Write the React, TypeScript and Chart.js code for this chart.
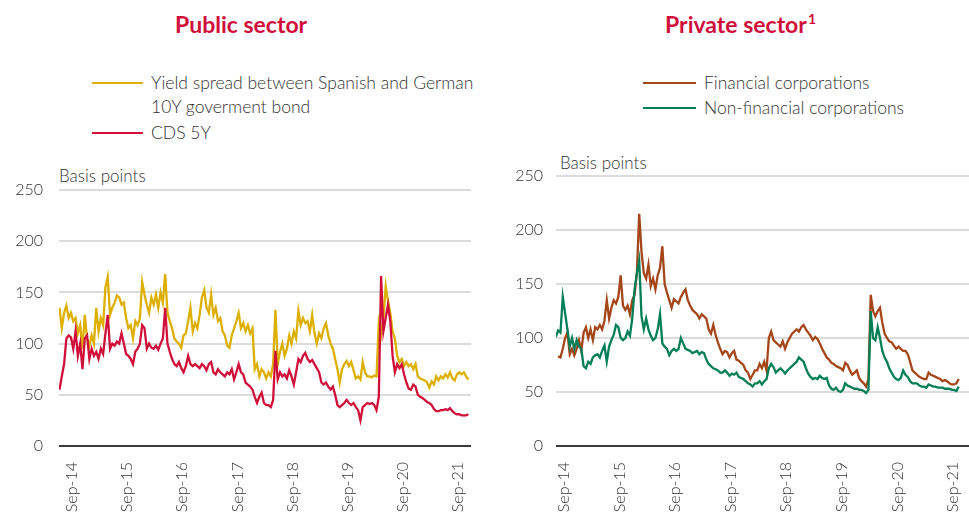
import React, { useEffect, useRef } from 'react';
import { Chart, registerables } from 'chart.js';

Chart.register(...registerables);

// ---------- DATA ----------
// Half-month grid (step = 1/24 year); start positions in fractional years
const PUBLIC_START = 2014.44;
const PRIVATE_START = 2014.52;
const STEP = 1 / 24;

const TICK_YEARS = [2014, 2015, 2016, 2017, 2018, 2019, 2020, 2021];
const TICK_LABELS = ['Sep-14', 'Sep-15', 'Sep-16', 'Sep-17', 'Sep-18', 'Sep-19', 'Sep-20', 'Sep-21'];
const Y_TICKS = [0, 50, 100, 150, 200, 250];

// Public sector (basis points)
const yieldSpread = [
  135, 115, 130, 137, 125, 130, 122, 125, 110, 118,
  95, 128, 105, 98, 108, 100, 135, 112, 125, 118,
  155, 165, 128, 135, 140, 147, 145, 138, 140, 125,
  115, 118, 105, 122, 118, 125, 160, 148, 138, 130,
  145, 138, 148, 135, 150, 140, 168, 130, 122, 115,
  105, 102, 100, 96, 108, 110, 122, 135, 112, 120,
  115, 128, 145, 152, 135, 130, 148, 128, 135, 122,
  125, 112, 108, 98, 96, 108, 115, 122, 130, 115,
  120, 112, 118, 110, 115, 75, 80, 68, 75, 72,
  66, 72, 68, 80, 133, 80, 92, 100, 88, 95,
  108, 100, 112, 105, 132, 118, 125, 120, 122, 112,
  128, 110, 100, 110, 105, 115, 120, 108, 100, 95,
  85, 75, 62, 75, 80, 83, 78, 82, 74, 66,
  68, 65, 82, 72, 68, 68, 67, 69, 68, 120,
  108, 125, 156, 142, 130, 112, 105, 88, 82, 85,
  78, 82, 78, 80, 75, 80, 68, 66, 65, 64,
  62, 57, 63, 60, 68, 64, 68, 66, 70, 67,
  72, 66, 64, 70, 72, 70, 72, 68, 65,
];

const cds5y = [
  55, 68, 80, 105, 108, 106, 95, 112, 88, 100,
  75, 105, 108, 85, 95, 88, 92, 85, 95, 90,
  110, 128, 95, 100, 98, 102, 100, 110, 100, 90,
  88, 85, 80, 92, 95, 100, 118, 115, 95, 100,
  96, 95, 98, 94, 100, 105, 135, 100, 92, 85,
  80, 78, 82, 76, 72, 78, 88, 80, 78, 80,
  78, 76, 80, 78, 74, 80, 82, 72, 70, 75,
  72, 70, 68, 72, 70, 75, 65, 72, 80, 72,
  70, 62, 60, 58, 55, 48, 42, 48, 52, 42,
  40, 40, 38, 45, 93, 65, 72, 68, 70, 66,
  74, 68, 60, 72, 85, 82, 88, 91, 85, 82,
  84, 80, 76, 72, 62, 60, 62, 58, 55, 58,
  50, 40, 38, 40, 42, 45, 42, 40, 42, 38,
  35, 25, 38, 40, 42, 41, 42, 40, 35, 48,
  166, 112, 125, 138, 122, 88, 72, 80, 76, 80,
  70, 62, 56, 55, 60, 58, 50, 48, 47, 45,
  43, 42, 40, 36, 34, 34, 35, 35, 36, 35,
  37, 34, 32, 31, 31, 30, 30, 30, 31,
];

// Private sector (basis points)
const financialCorps = [
  null, 83, 82, 90, 100, 105, 85, 90, 84, 90,
  98, 88, 105, 110, 100, 108, 98, 110, 108, 112,
  108, 116, 135, 118, 128, 135, 132, 138, 158, 130,
  126, 130, 122, 135, 140, 160, 215, 180, 160, 155,
  168, 148, 155, 145, 158, 165, 185, 150, 142, 135,
  128, 136, 134, 132, 138, 142, 145, 135, 130, 126,
  124, 122, 118, 122, 120, 118, 108, 104, 112, 103,
  96, 90, 85, 88, 87, 82, 86, 88, 80, 79,
  77, 75, 70, 68, 62, 66, 70, 70, 76, 72,
  78, 70, 100, 106, 98, 96, 94, 92, 97, 90,
  96, 100, 104, 106, 108, 106, 110, 112, 108, 105,
  102, 98, 101, 99, 95, 90, 86, 82, 80, 77,
  76, 74, 73, 72, 70, 77, 75, 70, 66, 68,
  70, 63, 60, 58, 55, 62, 140, 125, 120, 125,
  128, 114, 104, 100, 97, 96, 93, 90, 92, 90,
  88, 88, 85, 78, 70, 68, 66, 64, 63, 62,
  62, 68, 66, 65, 64, 63, 62, 60, 61, 60,
  58, 57, 57, 58, 62,
];

const nonFinancialCorps = [
  101, 107, 105, 138, 123, 108, 92, 100, 90, 98,
  92, 90, 74, 72, 78, 76, 82, 84, 85, 82,
  88, 93, 78, 92, 98, 103, 112, 110, 100, 98,
  100, 106, 102, 118, 145, 160, 172, 120, 108, 118,
  108, 102, 98, 100, 108, 122, 95, 92, 90, 84,
  88, 90, 88, 90, 100, 95, 90, 89, 88, 86,
  87, 88, 85, 87, 86, 80, 76, 74, 72, 71,
  70, 68, 68, 70, 68, 65, 67, 66, 68, 64,
  63, 62, 60, 58, 57, 55, 58, 58, 60, 57,
  60, 62, 72, 76, 73, 68, 70, 72, 70, 67,
  70, 72, 74, 76, 78, 82, 80, 78, 72, 67,
  64, 62, 63, 62, 65, 63, 62, 63, 56, 53,
  52, 54, 51, 50, 52, 58, 56, 55, 54, 53,
  53, 52, 52, 51, 49, 52, 125, 100, 98, 110,
  100, 88, 82, 78, 72, 68, 64, 62, 61, 63,
  70, 66, 64, 60, 58, 58, 58, 56, 55, 55,
  54, 57, 56, 55, 55, 54, 54, 54, 53, 53,
  53, 52, 52, 51, 55,
];

// ---------- STYLE ----------
const YELLOW = '#DDB000';
const RED = '#D0103A';
const BROWN = '#A4461A';
const GREEN = '#007F56';
const TEXT = '#333333';
const FONT = 'Lato, "Open Sans", sans-serif';

type Series = { label: string; values: (number | null)[]; color: string; order: number };

type ChartProps = {
  series: Series[];
  start: number;
  xMin: number;
  xMax: number;
  left: number;
  top: number;
  width: number;
  height: number;
  padTop: number;
  padRight: number;
  plotHeight: number;
  yAxisWidth: number;
  yPad: number;
};

function LineChart(p: ChartProps) {
  const ref = useRef<HTMLCanvasElement>(null);
  useEffect(() => {
    const tickPos = TICK_YEARS.map((y) => y + 8 / 12);
    const chart = new Chart(ref.current as HTMLCanvasElement, {
      type: 'line',
      data: {
        datasets: p.series.map((s) => ({
          label: s.label,
          data: s.values.map((v, i) => ({ x: p.start + i * STEP, y: v })),
          borderColor: s.color,
          backgroundColor: s.color,
          borderWidth: 2.3,
          pointRadius: 0,
          tension: 0,
          fill: false,
          order: s.order,
        })),
      },
      options: {
        responsive: false,
        maintainAspectRatio: false,
        animation: false,
        devicePixelRatio: 1,
        layout: { padding: { top: p.padTop, right: p.padRight, left: 0, bottom: 0 } },
        plugins: { legend: { display: false }, tooltip: { enabled: false }, title: { display: false } },
        scales: {
          x: {
            type: 'linear',
            min: p.xMin,
            max: p.xMax,
            grid: { display: false, drawTicks: false },
            border: { display: false },
            afterBuildTicks: (scale: any) => {
              scale.ticks = tickPos.map((v) => ({ value: v }));
            },
            afterFit: (scale: any) => {
              scale.height = p.height - p.padTop - p.plotHeight;
              scale.paddingLeft = 0;
              scale.paddingRight = 0;
            },
            ticks: {
              autoSkip: false,
              minRotation: 90,
              maxRotation: 90,
              padding: 16,
              color: TEXT,
              font: { family: FONT, size: 16, weight: 300 },
              callback: (_v: any, i: number) => TICK_LABELS[i],
            },
          },
          y: {
            min: 0,
            max: 250,
            afterBuildTicks: (scale: any) => {
              scale.ticks = Y_TICKS.map((v) => ({ value: v }));
            },
            afterFit: (scale: any) => {
              scale.width = p.yAxisWidth;
              scale.paddingTop = 0;
              scale.paddingBottom = 0;
            },
            grid: {
              drawTicks: false,
              lineWidth: 2,
              color: (ctx: any) => (ctx.tick && ctx.tick.value === 0 ? '#3a3a3a' : '#dcdcdc'),
            },
            border: { display: false },
            ticks: {
              padding: p.yPad,
              color: TEXT,
              font: { family: FONT, size: 16, weight: 300 },
            },
          },
        },
      },
    } as any);
    return () => chart.destroy();
  }, []);
  return (
    <canvas
      ref={ref}
      width={p.width}
      height={p.height}
      style={{ position: 'absolute', left: p.left, top: p.top, width: p.width, height: p.height }}
    />
  );
}

const abs = (left: number, top: number, extra: React.CSSProperties = {}): React.CSSProperties => ({
  position: 'absolute',
  left,
  top,
  whiteSpace: 'nowrap',
  ...extra,
});

const legendText: React.CSSProperties = { fontSize: 17.5, lineHeight: '24px', color: TEXT, fontWeight: 300 };
const unitText: React.CSSProperties = { fontSize: 17, lineHeight: '24px', color: TEXT, fontWeight: 300 };
const titleText: React.CSSProperties = { fontSize: 23, lineHeight: '30px', fontWeight: 700, color: RED };

export default function App() {
  return (
    <div
      style={{
        position: 'fixed',
        left: 0,
        top: 0,
        width: 969,
        height: 512,
        overflow: 'hidden',
        background: '#fff',
        fontFamily: FONT,
      }}
    >
      {/* Titles */}
      <div style={abs(175, 9, titleText)}>Public sector</div>
      <div style={abs(665, 9, titleText)}>
        Private sector
        <span style={{ fontSize: 14, position: 'relative', top: -9, marginLeft: 1 }}>1</span>
      </div>

      {/* Left legend */}
      <div style={abs(92, 82, { width: 51, height: 2, background: YELLOW })} />
      <div style={abs(151, 71, legendText)}>
        Yield spread between Spanish and German
        <br />
        10Y goverment bond
      </div>
      <div style={abs(92, 132, { width: 51, height: 2, background: RED })} />
      <div style={abs(151, 121, legendText)}>CDS 5Y</div>

      {/* Right legend */}
      <div style={abs(643, 82, { width: 53, height: 2, background: BROWN })} />
      <div style={abs(704, 71, legendText)}>Financial corporations</div>
      <div style={abs(643, 107, { width: 53, height: 2, background: GREEN })} />
      <div style={abs(704, 96, legendText)}>Non-financial corporations</div>

      {/* Axis unit labels */}
      <div style={abs(59, 164, unitText)}>Basis points</div>
      <div style={abs(560, 151, unitText)}>Basis points</div>

      <LineChart
        series={[
          { label: 'Yield spread between Spanish and German 10Y goverment bond', values: yieldSpread, color: YELLOW, order: 2 },
          { label: 'CDS 5Y', values: cds5y, color: RED, order: 1 },
        ]}
        start={PUBLIC_START}
        xMin={2014.431}
        xMax={2021.904}
        left={0}
        top={150}
        width={484}
        height={400}
        padTop={40}
        padRight={13}
        plotHeight={256}
        yAxisWidth={59}
        yPad={16}
      />
      <LineChart
        series={[
          { label: 'Financial corporations', values: financialCorps, color: BROWN, order: 2 },
          { label: 'Non-financial corporations', values: nonFinancialCorps, color: GREEN, order: 1 },
        ]}
        start={PRIVATE_START}
        xMin={2014.523}
        xMax={2021.955}
        left={484}
        top={130}
        width={485}
        height={420}
        padTop={46}
        padRight={0}
        plotHeight={270}
        yAxisWidth={72}
        yPad={13}
      />
    </div>
  );
}
